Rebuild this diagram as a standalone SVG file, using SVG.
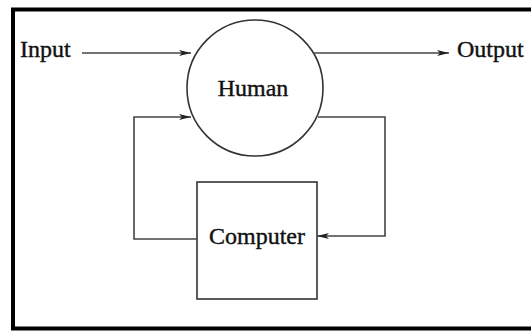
<svg xmlns="http://www.w3.org/2000/svg" width="531" height="331" viewBox="0 0 531 331">
  <style>
    .lbl { font-family: "Liberation Serif", "Times New Roman", serif; font-size: 24px; fill: #111; stroke: #111; stroke-width: 0.4; }
    .shape { fill: none; stroke: #333; stroke-width: 1.6; }
    .conn { fill: none; stroke: #444; stroke-width: 1.6; }
  </style>
  <defs>
    <marker id="arrow" viewBox="0 0 12 6" refX="12" refY="3" markerWidth="12" markerHeight="6" markerUnits="userSpaceOnUse" orient="auto">
      <path d="M0,0 L12,3 L0,6 L3,3 Z" fill="#222"/>
    </marker>
  </defs>
  <rect width="531" height="331" fill="#fff"/>

  <!-- outer frame -->
  <rect id="frame" x="13" y="9.5" width="530" height="319" fill="none" stroke="#000" stroke-width="4"/>

  <g id="human">
    <circle class="shape" cx="255" cy="88" r="68"/>
    <text class="lbl" x="253" y="96" text-anchor="middle">Human</text>
  </g>

  <g id="computer">
    <rect class="shape" x="197" y="182" width="120" height="117"/>
    <text class="lbl" x="257" y="244" text-anchor="middle">Computer</text>
  </g>

  <g id="input">
    <text class="lbl" x="20" y="57">Input</text>
  </g>

  <g id="output">
    <text class="lbl" x="457" y="57">Output</text>
  </g>

  <g id="connectors">
    <line class="conn" x1="82" y1="53" x2="191" y2="53" marker-end="url(#arrow)"/>
    <line class="conn" x1="313" y1="53" x2="449" y2="53" marker-end="url(#arrow)"/>
    <polyline class="conn" points="197,239 134,239 134,117 191,117" marker-end="url(#arrow)"/>
    <polyline class="conn" points="318,117 385,117 385,236 317,236" marker-end="url(#arrow)"/>
  </g>
</svg>
